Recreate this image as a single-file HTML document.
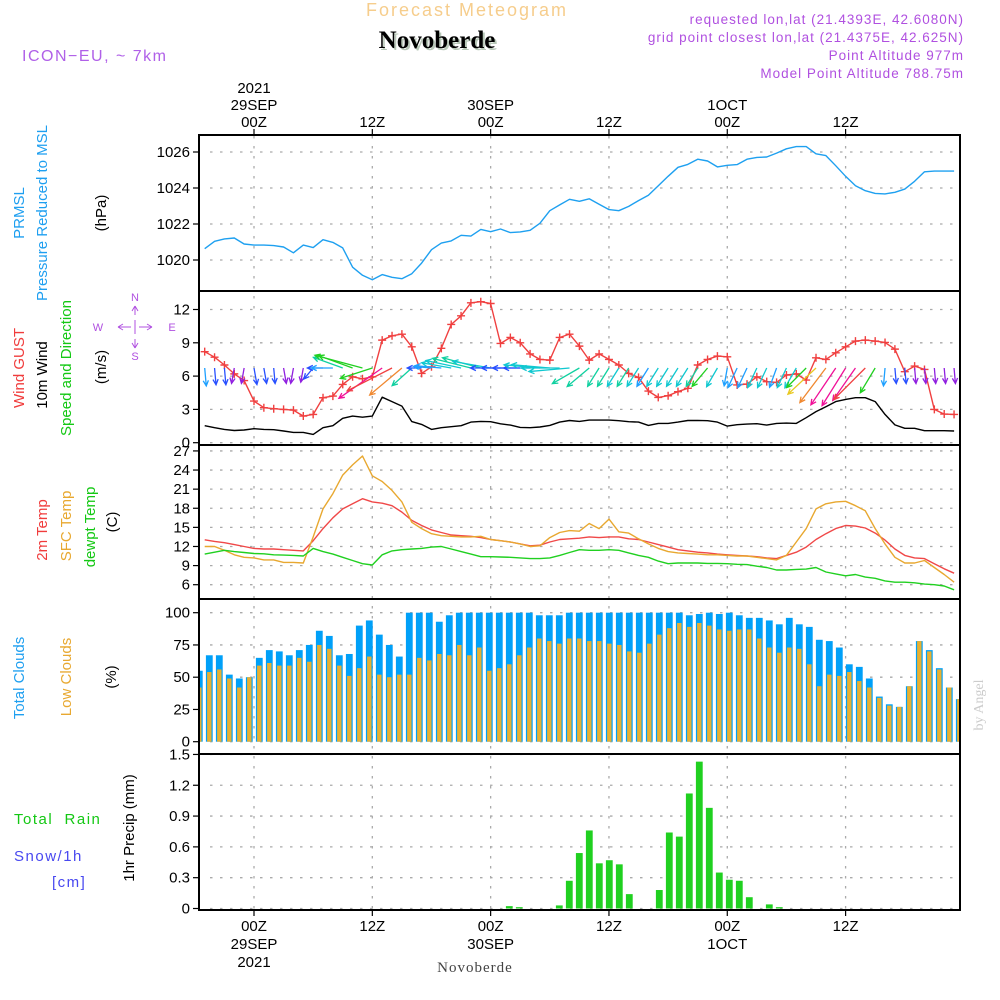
<!DOCTYPE html>
<html><head><meta charset="utf-8"><style>
html,body{margin:0;padding:0;background:#fff;}
svg{display:block;font-family:"Liberation Sans",sans-serif;}
</style></head><body>
<svg id="chart" width="1000" height="1000" viewBox="0 0 1000 1000" xmlns="http://www.w3.org/2000/svg">
<g>
<text x="467" y="16" text-anchor="middle" font-size="18" letter-spacing="2" fill="#f6cd8c">Forecast Meteogram</text>
<text x="439" y="50" text-anchor="middle" font-family="Liberation Serif,serif" font-weight="bold" font-size="25" fill="#b8c8b8">Novoberde</text>
<text x="437" y="48" text-anchor="middle" font-family="Liberation Serif,serif" font-weight="bold" font-size="25" fill="#000">Novoberde</text>
<text x="22" y="61" font-size="16" letter-spacing="1.5" fill="#b060e8">ICON−EU, ~ 7km</text>
<g font-size="13.5" letter-spacing="1" fill="#b050e0" text-anchor="end">
<text x="964" y="24">requested lon,lat (21.4393E, 42.6080N)</text>
<text x="964" y="42">grid point closest lon,lat (21.4375E, 42.625N)</text>
<text x="964" y="60">Point Altitude 977m</text>
<text x="964" y="78">Model Point Altitude 788.75m</text>
</g>
</g>
<g id="grid"></g>
<g id="marks"></g>
<g id="frame"></g>
<g id="labels" font-size="15"></g>
<g font-size="15">
<text transform="translate(24,213) rotate(-90)" text-anchor="middle" fill="#1e9ff0">PRMSL</text>
<text transform="translate(47,213) rotate(-90)" text-anchor="middle" fill="#1e9ff0">Pressure Reduced to MSL</text>
<text transform="translate(106,213) rotate(-90)" text-anchor="middle" fill="#000">(hPa)</text>
<text transform="translate(24,368) rotate(-90)" text-anchor="middle" fill="#f03c3c">Wind GUST</text>
<text transform="translate(47,375) rotate(-90)" text-anchor="middle" fill="#000">10m Wind</text>
<text transform="translate(71,368) rotate(-90)" text-anchor="middle" fill="#14c814">Speed and Direction</text>
<text transform="translate(106,367) rotate(-90)" text-anchor="middle" fill="#000">(m/s)</text>
<g fill="none" stroke="#b050e0" stroke-width="1">
<path d="M118,327H131M139,327H152M118,327l5,-3M118,327l5,3M152,327l-5,-3M152,327l-5,3M135,306V315M135,320V334M135,339V348M135,306l-3,5M135,306l3,5M135,348l-3,-5M135,348l3,-5"/>
<g fill="#b050e0" stroke="none" font-size="11" text-anchor="middle">
<text x="135" y="301">N</text><text x="135" y="360">S</text><text x="98" y="331">W</text><text x="172" y="331">E</text>
</g>
</g>
<text transform="translate(47,530) rotate(-90)" text-anchor="middle" fill="#f03c3c">2m Temp</text>
<text transform="translate(71,526) rotate(-90)" text-anchor="middle" fill="#e8a830">SFC Temp</text>
<text transform="translate(95,527) rotate(-90)" text-anchor="middle" fill="#14c814">dewpt Temp</text>
<text transform="translate(117,522) rotate(-90)" text-anchor="middle" fill="#000">(C)</text>
<text transform="translate(24,678) rotate(-90)" text-anchor="middle" fill="#1e9ff0">Total Clouds</text>
<text transform="translate(71,677) rotate(-90)" text-anchor="middle" fill="#e8a830">Low Clouds</text>
<text transform="translate(116,677) rotate(-90)" text-anchor="middle" fill="#000">(%)</text>
<text transform="translate(134,828) rotate(-90)" text-anchor="middle" fill="#000">1hr Precip (mm)</text>
<text x="14" y="824" fill="#14c814" letter-spacing="1.5" xml:space="preserve">Total  Rain</text>
<text x="14" y="861" fill="#4848f0" letter-spacing="1.5">Snow/1h</text>
<text x="52" y="887" fill="#4848f0" letter-spacing="1.5">[cm]</text>
<text x="475" y="972" text-anchor="middle" font-family="Liberation Serif,serif" font-size="15" fill="#444" letter-spacing="1">Novoberde</text>
<text transform="translate(983,705) rotate(-90)" text-anchor="middle" font-family="Liberation Serif,serif" font-size="14" fill="#ccc">by Angel</text>
</g>
</svg>
<script>
// hourly data, t = -5 .. 71 (hours from 29SEP 00Z)
const hours0 = -5;
const pressure = [1020.63,1021.04,1021.17,1021.22,1020.89,1020.83,1020.83,1020.8,1020.72,1020.4,1020.83,1020.69,1021.13,1020.98,1020.67,1019.6,1019.15,1018.9,1019.19,1019.04,1018.96,1019.24,1019.83,1020.57,1020.94,1021.06,1021.37,1021.33,1021.7,1021.57,1021.72,1021.52,1021.56,1021.65,1022.04,1022.74,1023.06,1023.37,1023.26,1023.4,
1023.1,1022.8,1022.74,1022.98,1023.3,1023.6,1024.13,1024.65,1025.15,1025.31,1025.6,1025.5,1025.17,1025.26,1025.3,1025.6,1025.7,1025.72,1025.94,1026.18,1026.3,1026.3,1025.9,1025.8,1025.24,1024.65,1024.13,1023.85,1023.7,1023.67,1023.76,1023.94,1024.37,1024.9,1024.94,1024.94,1024.94];
const gust = [8.2,7.7,7.0,6.2,5.6,3.75,3.15,3.06,3.0,2.94,2.4,2.55,4.05,4.2,5.25,5.94,5.76,5.94,9.24,9.63,9.78,8.64,6.24,6.84,8.5,10.65,11.43,12.6,12.7,12.54,8.94,9.48,9.0,8.0,7.5,7.44,9.48,9.78,8.7,7.44,
8.0,7.5,7.0,6.24,5.88,4.65,4.08,4.23,4.6,4.9,7.0,7.5,7.8,7.74,5.2,5.28,5.94,5.5,5.43,6.1,6.2,5.64,7.65,7.5,8.1,8.64,9.15,9.24,9.15,9.03,8.43,6.4,6.9,6.6,3.0,2.58,2.55];
const wind10 = [1.53,1.35,1.2,1.1,1.14,1.26,1.2,1.17,1.05,0.93,0.93,0.75,1.35,1.53,2.2,2.4,2.3,2.4,4.1,3.7,3.3,1.9,1.65,1.2,1.35,1.44,1.53,1.86,1.92,1.89,1.7,1.59,1.38,1.35,1.41,1.56,1.86,2.0,1.92,2.04,
2.04,2.04,1.98,1.89,1.86,1.56,1.74,1.74,1.86,2.0,2.01,1.98,1.86,1.5,1.62,1.68,1.71,1.59,1.74,1.77,1.74,2.25,2.8,3.24,3.7,3.9,4.05,4.05,3.7,2.55,1.6,1.3,1.3,1.08,1.08,1.08,1.05];
// wind direction (deg, from), arrow speed, colour class
const windDir = [355,355,355,10,10,350,350,355,350,10,10,40,90,90,110,110,105,72,55,63,50,48,90,95,95,100,102,104,105,100,90,90,90,90,95,95,90,85,60,50,
32,32,32,32,32,32,32,32,32,32,32,40,30,10,25,25,25,25,20,25,30,45,47,37,34,32,35,45,31,5,355,355,355,355,355,355,355];
const arrowSpd = [1.5,1.4,1.4,1.3,1.3,1.4,1.3,1.3,1.3,1.3,1.2,1.2,1.3,1.8,2.6,3.0,4.1,2.8,4.4,4.2,3.5,2.2,1.2,1.5,2.2,2.5,3.0,3.3,3.3,3.2,2.5,2.4,2.3,2.2,3.0,3.2,3.2,3.4,2.6,2.4,
1.8,1.8,1.8,1.8,1.8,1.8,1.8,1.8,1.8,1.8,1.8,2.0,1.8,1.5,1.8,1.8,1.8,1.8,1.7,1.8,1.9,2.3,3.2,3.6,3.7,3.7,3.3,3.7,2.4,1.5,1.3,1.3,1.3,1.3,1.3,1.3,1.3];
const windCol = ['lb','b','b','p','p','b','b','b','p','p','p','b','b','lb','t','g','g','g','m','r','o','t','b','lb','lb','c','c','t','t','c','b','b','b','b','c','c','c','c','t','t',
't','t','c','t','c','lb','c','c','c','c','t','g','c','lb','lb','lb','c','c','lb','c','c','g','y','o','m','m','m','r','g','lb','b','b','p','p','p','p','p'];
const t2m = [13.05,12.8,12.6,12.3,12.0,11.7,11.6,11.6,11.5,11.4,11.3,12.9,14.8,16.5,17.9,18.7,19.5,19.0,18.8,18.4,17.4,16.1,15.3,14.6,14.2,13.8,13.7,13.6,13.4,13.1,12.9,12.7,12.4,12.1,12.2,12.7,13.1,13.2,13.3,13.5,
13.4,13.5,13.5,13.2,13.1,12.7,12.3,11.9,11.5,11.3,11.1,11.0,10.8,10.7,10.6,10.5,10.4,10.2,10.1,10.6,11.1,11.9,13.1,14.0,14.8,15.3,15.2,14.9,14.1,13.0,11.6,10.6,10.2,10.1,9.3,8.5,7.8];
const tsfc = [12.0,12.0,11.4,10.7,10.3,10.2,9.9,9.9,9.5,9.5,9.4,13.5,17.9,20.3,23.2,24.8,26.2,23.1,22.2,20.8,19.0,15.8,14.8,14.0,13.7,13.6,13.5,13.5,13.6,13.1,12.9,12.7,12.4,12.0,12.1,13.4,14.2,14.5,14.4,15.6,
14.8,16.3,14.3,14.1,13.2,12.4,11.7,11.2,11.0,10.9,10.8,10.7,10.7,10.6,10.5,10.5,10.3,10.1,9.9,10.6,12.7,14.8,17.9,18.7,19.0,19.1,18.4,17.6,14.8,12.4,10.3,9.4,9.4,9.8,8.7,7.6,6.4];
const dewpt = [10.8,11.1,11.4,11.2,11.05,10.9,10.85,10.7,10.65,10.6,10.5,11.7,11.2,10.8,10.3,9.8,9.3,9.1,10.7,11.3,11.5,11.6,11.7,11.9,12.0,11.6,11.2,10.8,10.4,10.4,10.35,10.3,10.2,10.1,10.1,10.2,10.6,11.05,11.5,11.4,
11.4,11.5,11.4,11.0,10.6,10.3,9.7,9.3,9.4,9.4,9.4,9.35,9.35,9.3,9.2,9.15,8.9,8.7,8.3,8.3,8.4,8.45,8.7,8.0,7.7,7.4,7.6,7.2,7.0,6.6,6.4,6.4,6.3,6.1,6.0,5.8,5.2];
// hourly bars, bar index 0 .. 76
const totalClouds = [55,67,67,52,49,50,65,71,70,67,71,75,86,82,67,68,90,94,83,75,66,100,100,100,93,98,100,100,100,100,100,100,100,100,98,98,98,100,100,100,
100,100,100,100,100,100,100,100,100,98,99,100,99,100,98,96,96,94,91,96,91,89,79,78,73,60,58,49,35,29,27,43,78,71,57,42,33];
const lowClouds = [42,54,56,49,42,50,59,61,59,59,65,62,75,72,59,51,57,66,52,50,52,52,65,63,68,67,75,67,73,55,57,60,67,73,80,78,76,80,80,78,
78,76,75,70,69,76,83,88,92,89,92,90,87,86,87,87,80,73,69,73,72,60,43,52,51,54,47,42,34,28,27,43,78,70,56,42,33];
const precip = [0,0,0,0,0,0,0,0,0,0,0,0,0,0,0,0,0,0,0,0,0,0,0,0,0,0,0,0,0,0,0,
0.023,0.013,0,0,0,0.03,0.27,0.54,0.76,0.44,0.47,0.43,0.14,0,0,0.18,0.74,0.70,1.12,1.43,0.98,0.35,0.28,0.27,0.11,0,0.04,0.013,
0,0,0,0,0,0,0,0,0,0,0,0,0,0,0,0,0,0];
const presTicks = [1020,1022,1024,1026];
const windTicks = [0,3,6,9,12];
const tempTicks = [6,9,12,15,18,21,24,27];
const cloudTicks = [0,25,50,75,100];
const precipTicks = [0,0.3,0.6,0.9,1.2,1.5];
const timeTicks = [0,12,24,36,48,60];
const topLabels = [["2021","29SEP","00Z"],["","","12Z"],["","30SEP","00Z"],["","","12Z"],["","1OCT","00Z"],["","","12Z"]];
const botLabels = [["00Z","29SEP","2021"],["12Z","",""],["00Z","30SEP",""],["12Z","",""],["00Z","1OCT",""],["12Z","",""]];

const NS='http://www.w3.org/2000/svg';
const L=199, R=960;
const x = t => 254 + t*9.86;
const xb = i => 199.3 + i*10;
const yP = v => 152 + (1026-v)*18;
const yW = v => 442.7 - v*11.1;
const yT = v => 584.7 - (v-6)*6.37;
const yC = v => 741.7 - v*1.29;
const yR = v => 908.5 - v*102.7;
const panels = [[135,291],[291,445],[445,599],[599,754],[754,910]];
const COLS={lb:'#1ea0ff',b:'#2850ff',p:'#9020e0',c:'#10c8d0',t:'#10d0a0',g:'#20d020',y:'#e8c820',o:'#f08830',r:'#f04040',m:'#f01098'};
function el(tag,attrs,parent){const e=document.createElementNS(NS,tag);for(const k in attrs)e.setAttribute(k,attrs[k]);parent.appendChild(e);return e;}
const G=document.getElementById('grid'), M=document.getElementById('marks'), F=document.getElementById('frame'), LB=document.getElementById('labels');
const clip=el('clipPath',{id:'pc'},el('defs',{},document.getElementById('chart')));
el('rect',{x:L,y:135,width:R-L,height:775},clip);
M.setAttribute('clip-path','url(#pc)');

function yAxis(ticks,fy,fmt,name){
  ticks.forEach(v=>{
    const y=fy(v);
    const g=el('line',{x1:210,x2:R,y1:y,y2:y,stroke:'#aaa','stroke-width':1.3,'stroke-dasharray':'2.5,7.5'},G);
    
    
    el('line',{x1:193,x2:L,y1:y,y2:y,stroke:'#000','stroke-width':1.2},F);
    const tx=el('text',{x:190,y:y+5,'text-anchor':'end'},LB);
    tx.textContent=fmt(v);
    
    
  });
}
yAxis(presTicks,yP,v=>String(v),'pressure');
yAxis(windTicks,yW,v=>String(v),'wind');
yAxis(tempTicks,yT,v=>String(v),'temp');
yAxis(cloudTicks,yC,v=>String(v),'cloud');
yAxis(precipTicks,yR,v=>v===0?'0':v.toFixed(1),'precip');
timeTicks.forEach((t,i)=>{
  const xx=x(t);
  const g=el('line',{x1:xx,x2:xx,y1:136,y2:909,stroke:'#aaa','stroke-width':1.3,'stroke-dasharray':'2.5,7.5'},G);
  
  
  el('line',{x1:xx,x2:xx,y1:129,y2:135,stroke:'#000','stroke-width':1.2},F);
  el('line',{x1:xx,x2:xx,y1:910,y2:916,stroke:'#000','stroke-width':1.2},F);
  topLabels[i].forEach((s,j)=>{ if(!s)return; const tx=el('text',{x:xx,y:93+j*17,'text-anchor':'middle'},LB); tx.textContent=s;
     });
  botLabels[i].forEach((s,j)=>{ if(!s)return; const tx=el('text',{x:xx,y:931+j*18,'text-anchor':'middle'},LB); tx.textContent=s;
     });
});
panels.forEach(p=>{
  const r=el('rect',{x:L,y:p[0],width:R-L,height:p[1]-p[0],fill:'none',stroke:'#000','stroke-width':2},F);
  
  
});

function line(arr,fy,col,name,w){
  const pts=arr.map((v,i)=>x(hours0+i).toFixed(1)+','+fy(v).toFixed(1)).join(' ');
  const pl=el('polyline',{points:pts,fill:'none',stroke:col,'stroke-width':w||1.4,'stroke-linejoin':'round'},M);
  
  
}
line(pressure,yP,'#1ea0f0','pressure-line');
line(wind10,yW,'#000','wind10-line');
line(gust,yW,'#f04040','gust-line');
gust.forEach((v,i)=>{
  const cx=x(hours0+i), cy=yW(v);
  const p=el('path',{d:`M${cx-4},${cy}H${cx+4}M${cx},${cy-4}V${cy+4}`,stroke:'#f04040','stroke-width':1.4},M);
  
  
});
windDir.forEach((d,i)=>{
  const x0=x(hours0+i), y0=368, L2=arrowSpd[i]*12, a=d*Math.PI/180;
  const dx=-Math.sin(a)*L2, dy=Math.cos(a)*L2;
  const x1=x0+dx, y1=y0+dy, ang=Math.atan2(dy,dx);
  const h=6, s=0.45;
  const col=COLS[windCol[i]];
  const p=el('path',{d:`M${x0},${y0}L${x1},${y1}M${x1-h*Math.cos(ang-s)},${y1-h*Math.sin(ang-s)}L${x1},${y1}L${x1-h*Math.cos(ang+s)},${y1-h*Math.sin(ang+s)}`,stroke:col,'stroke-width':1.3,fill:'none'},M);
  
  
});
line(t2m,yT,'#f04848','t2m-line');
line(tsfc,yT,'#e8a830','sfc-temp-line');
line(dewpt,yT,'#20d020','dewpoint-line');
totalClouds.forEach((v,i)=>{
  const cx=xb(i);
  const b=el('rect',{x:cx-3.4,y:yC(v),width:6.8,height:yC(0)-yC(v),fill:'#00a0f8'},M);
  
  
  const o=el('rect',{x:cx-2.2,y:yC(lowClouds[i]),width:4.4,height:yC(0)-yC(lowClouds[i]),fill:'#e8b030'},M);
  
  
});
precip.forEach((v,i)=>{
  if(v<=0)return;
  const cx=xb(i);
  const b=el('rect',{x:cx-3.4,y:yR(v),width:6.8,height:yR(0)-yR(v),fill:'#20d020'},M);
  
  
});
</script>
</body></html>
